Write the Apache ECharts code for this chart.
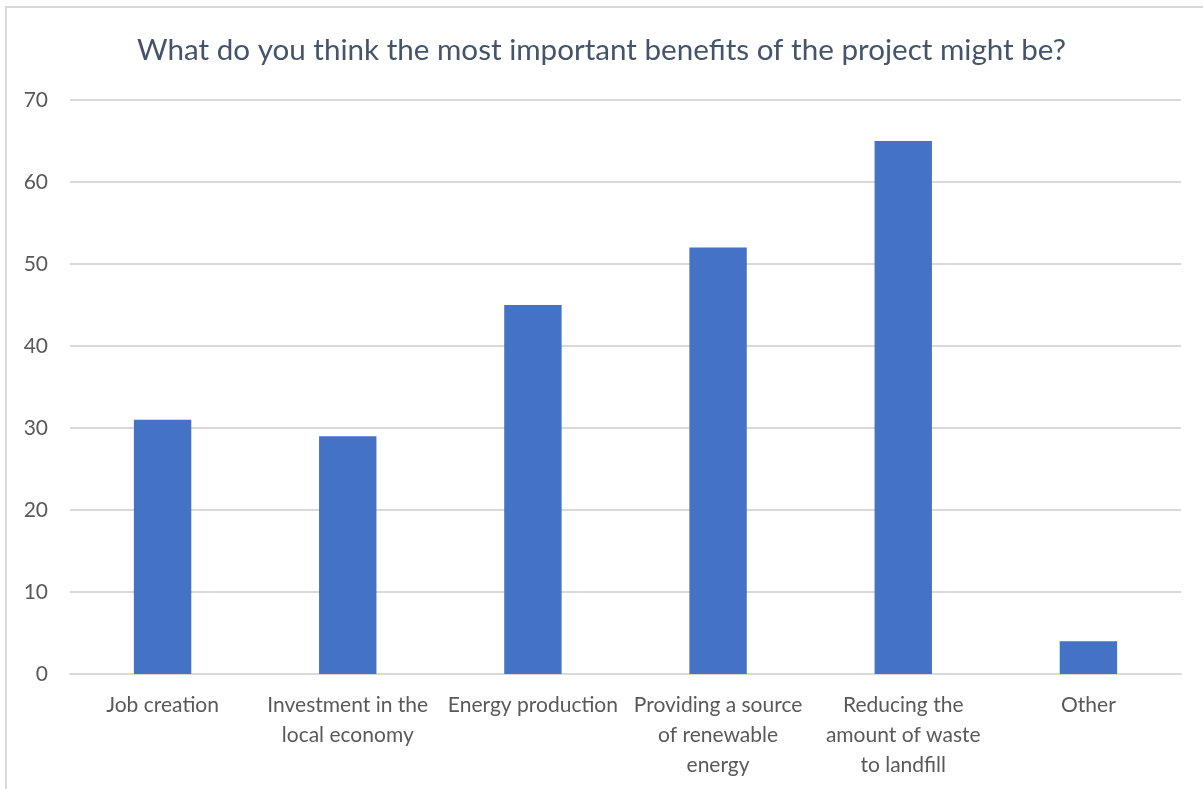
<!DOCTYPE html>
<html><head><meta charset="utf-8">
<script src="https://cdn.jsdelivr.net/npm/echarts@6/dist/echarts.min.js"></script>
<style>html,body{margin:0;padding:0;background:#fff}#c{width:1203px;height:789px}</style>
</head><body><div id="c"></div>
<script>
const titleText = 'What do you think the most important benefits of the project might be?';
const categories = ['Job creation', 'Investment in the\nlocal economy', 'Energy production', 'Providing a source\nof renewable\nenergy', 'Reducing the\namount of waste\nto landfill', 'Other'];
const values = [31, 29, 45, 52, 65, 4];
const yTicks = [0, 10, 20, 30, 40, 50, 60, 70];

const chart = echarts.init(document.getElementById('c'));
chart.setOption({
  backgroundColor: '#fff',
  animation: false,
  textStyle: { fontFamily: 'Lato' },
  graphic: [{ type: 'rect', shape: { x: 6, y: 7, width: 1220, height: 810 }, style: { fill: 'none', stroke: '#d9d9d9', lineWidth: 2 }, silent: true }],
  title: { text: titleText, left: 'center', top: 30, textStyle: { fontFamily: 'Lato', fontSize: 29.6, fontWeight: 'normal', color: '#44546A' } },
  grid: { left: 70, right: 22, top: 100, bottom: 115 },
  xAxis: {
    type: 'category', data: categories,
    axisLine: { lineStyle: { color: '#d9d9d9', width: 2 } },
    axisTick: { show: false },
    axisLabel: { interval: 0, color: '#595959', fontSize: 21, lineHeight: 30, margin: 16 }
  },
  yAxis: {
    type: 'value', min: yTicks[0], max: yTicks[yTicks.length - 1], interval: 10,
    axisLine: { show: false }, axisTick: { show: false },
    splitLine: { lineStyle: { color: '#d9d9d9', width: 2 } },
    axisLabel: { color: '#595959', fontSize: 21, margin: 22 }
  },
  series: [{ type: 'bar', data: values, barWidth: '31%', itemStyle: { color: '#4472C4' } }]
});
</script></body></html>
